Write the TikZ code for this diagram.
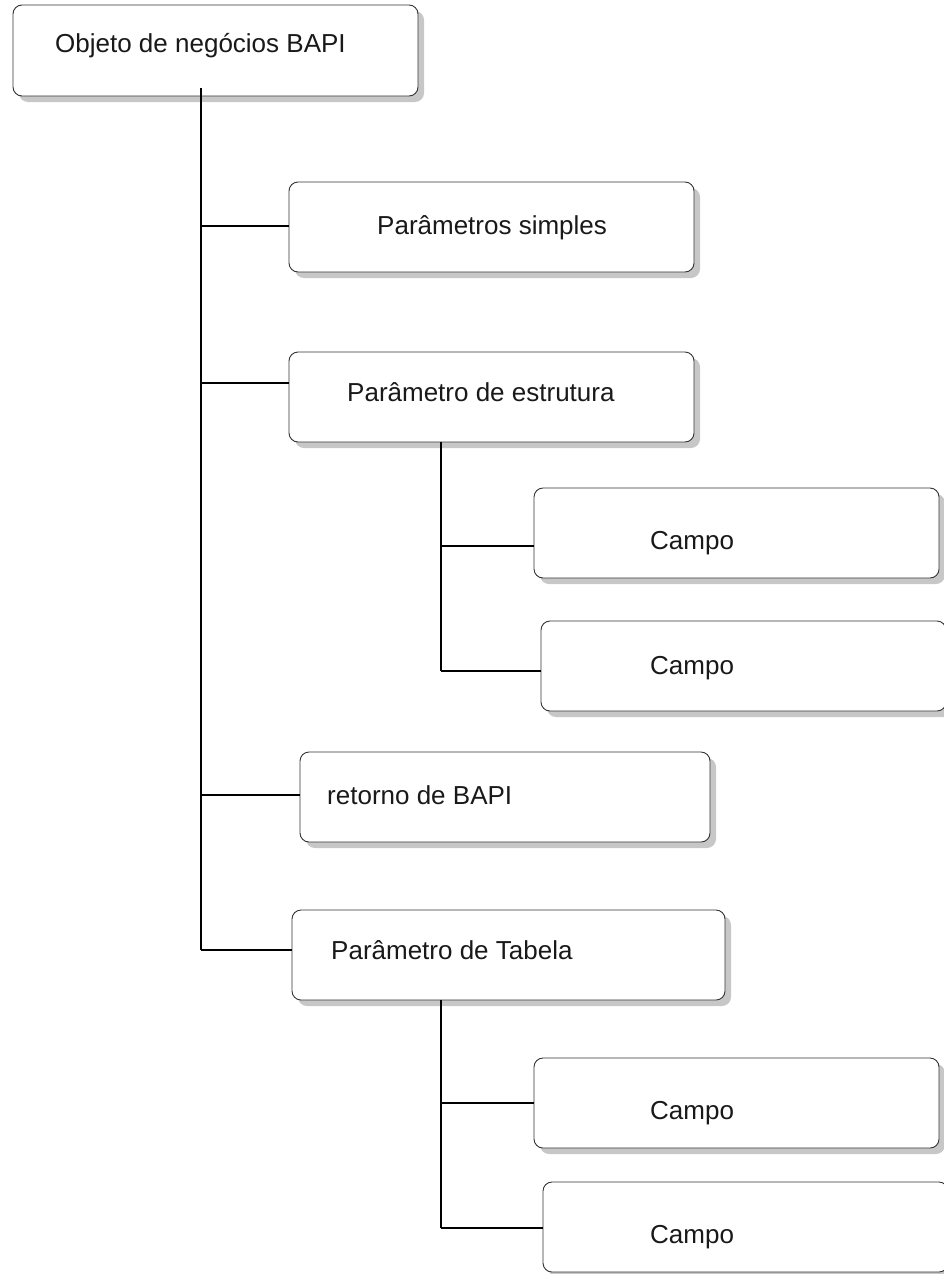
\documentclass[tikz,border=0pt]{standalone}
\usepackage{fontspec}
\setmainfont{Liberation Sans}
\usetikzlibrary{shadows}
\begin{document}
\begin{tikzpicture}[x=1pt,y=-1pt,
  box/.style={draw=black!80, line width=0.9pt, fill=white, rounded corners=9pt,
    minimum height=90pt, inner sep=0pt,
    drop shadow={shadow xshift=6pt, shadow yshift=-6pt, fill=black!22, opacity=1}},
  lbl/.style={anchor=mid west, font=\fontsize{26}{30}\selectfont, inner sep=0pt, text=black!90},
  conn/.style={line width=1.1pt, black}]
\useasboundingbox (0,0) rectangle (943,1274);
% boxes
\node[box, minimum width=405pt, minimum height=91pt] (top) at (215.5,50.5) {};
\node[box, minimum width=405pt] (ps) at (491.5,227) {};
\node[box, minimum width=405pt] (pe) at (491.5,397) {};
\node[box, minimum width=405pt] (c1) at (736.5,533) {};
\node[box, minimum width=405pt] (c2) at (743.5,666) {};
\node[box, minimum width=410pt] (rb) at (505,797) {};
\node[box, minimum width=433pt] (pt) at (508.5,955) {};
\node[box, minimum width=405pt] (c3) at (736.5,1103) {};
\node[box, minimum width=405pt] (c4) at (745.5,1227) {};
% labels
\node[lbl] (ttop) at (55,49.5) {Objeto de negócios BAPI};
\node[lbl] (tps) at (377,232) {Parâmetros simples};
\node[lbl] (tpe) at (347,399) {Parâmetro de estrutura};
\node[lbl] (tc1) at (650,547) {Campo};
\node[lbl] (tc2) at (650,672) {Campo};
\node[lbl] (trb) at (327,802) {retorno de BAPI};
\node[lbl] (tpt) at (331,957) {Parâmetro de Tabela};
\node[lbl] (tc3) at (650,1117) {Campo};
\node[lbl] (tc4) at (650,1241) {Campo};
% trunks
\coordinate (a0) at (201,88);
\coordinate (a1) at (201,226);
\coordinate (a2) at (201,383);
\coordinate (a3) at (201,795);
\coordinate (a4) at (201,950);
\coordinate (b0) at (441,442);
\coordinate (b1) at (441,546);
\coordinate (b2) at (441,671);
\coordinate (d0) at (441,1000);
\coordinate (d1) at (441,1103);
\coordinate (d2) at (441,1228);
\draw[conn] (a0) -- (a4);
\draw[conn] (a1) -- (a1 -| ps.west);
\draw[conn] (a2) -- (a2 -| pe.west);
\draw[conn] (a3) -- (a3 -| rb.west);
\draw[conn] (a4) -- (a4 -| pt.west);
\draw[conn] (b0) -- (b2);
\draw[conn] (b1) -- (b1 -| c1.west);
\draw[conn] (b2) -- (b2 -| c2.west);
\draw[conn] (d0) -- (d2);
\draw[conn] (d1) -- (d1 -| c3.west);
\draw[conn] (d2) -- (d2 -| c4.west);
\end{tikzpicture}
\end{document}
